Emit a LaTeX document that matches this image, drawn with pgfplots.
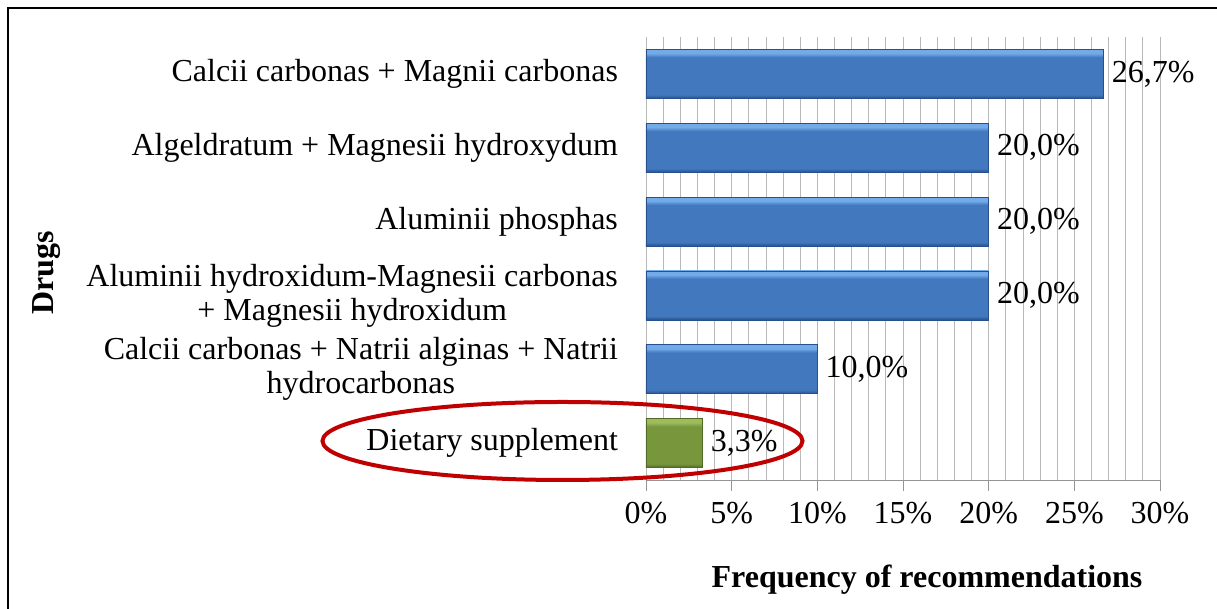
\documentclass[border=0pt]{standalone}
\usepackage{pgfplots}
\pgfplotsset{compat=1.18}
\usepackage{fontspec}
\setmainfont{Liberation Serif}
\definecolor{barblue}{RGB}{66,120,190}
\definecolor{barbluetop}{RGB}{115,170,232}
\definecolor{barbluebot}{RGB}{40,80,140}
\definecolor{bargreen}{RGB}{120,150,60}
\definecolor{bargreentop}{RGB}{158,188,92}
\definecolor{bargreenbot}{RGB}{80,105,38}
\definecolor{ringred}{RGB}{192,0,0}
\definecolor{gridgray}{RGB}{185,185,185}
\pgfdeclareverticalshading{bevelblue}{100bp}{color(0bp)=(barbluebot); color(25bp)=(barbluebot); color(29bp)=(barblue); color(67bp)=(barblue); color(71bp)=(barbluetop); color(75bp)=(barbluetop); color(100bp)=(barbluetop)}
\pgfdeclareverticalshading{bevelgreen}{100bp}{color(0bp)=(bargreenbot); color(25bp)=(bargreenbot); color(29bp)=(bargreen); color(67bp)=(bargreen); color(71bp)=(bargreentop); color(75bp)=(bargreentop); color(100bp)=(bargreentop)}
\pgfplotsset{
  bluebar/.style={draw=barbluebot, line width=0.4pt, shade, shading=bevelblue},
  greenbar/.style={draw=bargreenbot, line width=0.4pt, shade, shading=bevelgreen},
}

\begin{document}
\begin{tikzpicture}
\useasboundingbox (0,0) rectangle (608.5pt,304.5pt);
\begin{axis}[
  at={(323pt,64.5pt)}, anchor=south west,
  scale only axis, width=257pt, height=221.5pt,
  font=\fontsize{16}{17}\selectfont,
  xmin=0, xmax=30, ymin=-0.5, ymax=5.5,
  axis x line*=bottom, axis y line*=left,
  x axis line style={gridgray!80!black, -},
  y axis line style={draw=none},
  xtick={0,5,...,30},
  xticklabels={0\%,5\%,10\%,15\%,20\%,25\%,30\%},
  minor x tick num=4,
  major grid style={gridgray},
  minor grid style={gridgray},
  xmajorgrids, xminorgrids,
  tick align=outside,
  major tick length=5.5pt, minor tick length=0pt,
  xtick style={gridgray!80!black},
  xticklabel style={yshift=-2pt},
  ytick={0,1,2,3,4,5},
  yticklabels={
    Dietary supplement,
    {Calcii carbonas + Natrii alginas + Natrii\\hydrocarbonas},
    {Aluminii hydroxidum-Magnesii carbonas\\+ Magnesii hydroxidum},
    Aluminii phosphas,
    Algeldratum + Magnesii hydroxydum,
    Calcii carbonas + Magnii carbonas},
  yticklabel style={align=center, xshift=-5pt},
  ytick style={draw=none},
  xbar, bar width=24.5pt, bar shift=0pt,
  point meta=x,
  /pgf/number format/assume math mode=true,
  nodes near coords={\pgfmathprintnumber[fixed,zerofill,precision=1,use comma]{\pgfplotspointmeta}\%},
  nodes near coords style={anchor=west, inner sep=0pt, xshift=4pt, text=black},
  clip=false,
]
\addplot[greenbar] coordinates {(3.3,0)};
\addplot[bluebar] coordinates {(10,1)};
\addplot[bluebar] coordinates {(20,2)};
\addplot[bluebar] coordinates {(20,3)};
\addplot[bluebar] coordinates {(20,4)};
\addplot[bluebar] coordinates {(26.7,5)};
\end{axis}
\draw[ringred, line width=2pt] (281.25pt,84pt) ellipse [x radius=120pt, y radius=19.5pt];
\node[font=\fontsize{16}{17}\selectfont\bfseries] at (463.5pt,14.5pt) {Frequency of recommendations};
\node[font=\fontsize{16}{17}\selectfont\bfseries, rotate=90] at (23.5pt,168pt) {Drugs};
\draw[black, line width=1.3pt] (4pt,-5pt) -- (4pt,300.5pt) -- (620pt,300.5pt);
\end{tikzpicture}
\end{document}
